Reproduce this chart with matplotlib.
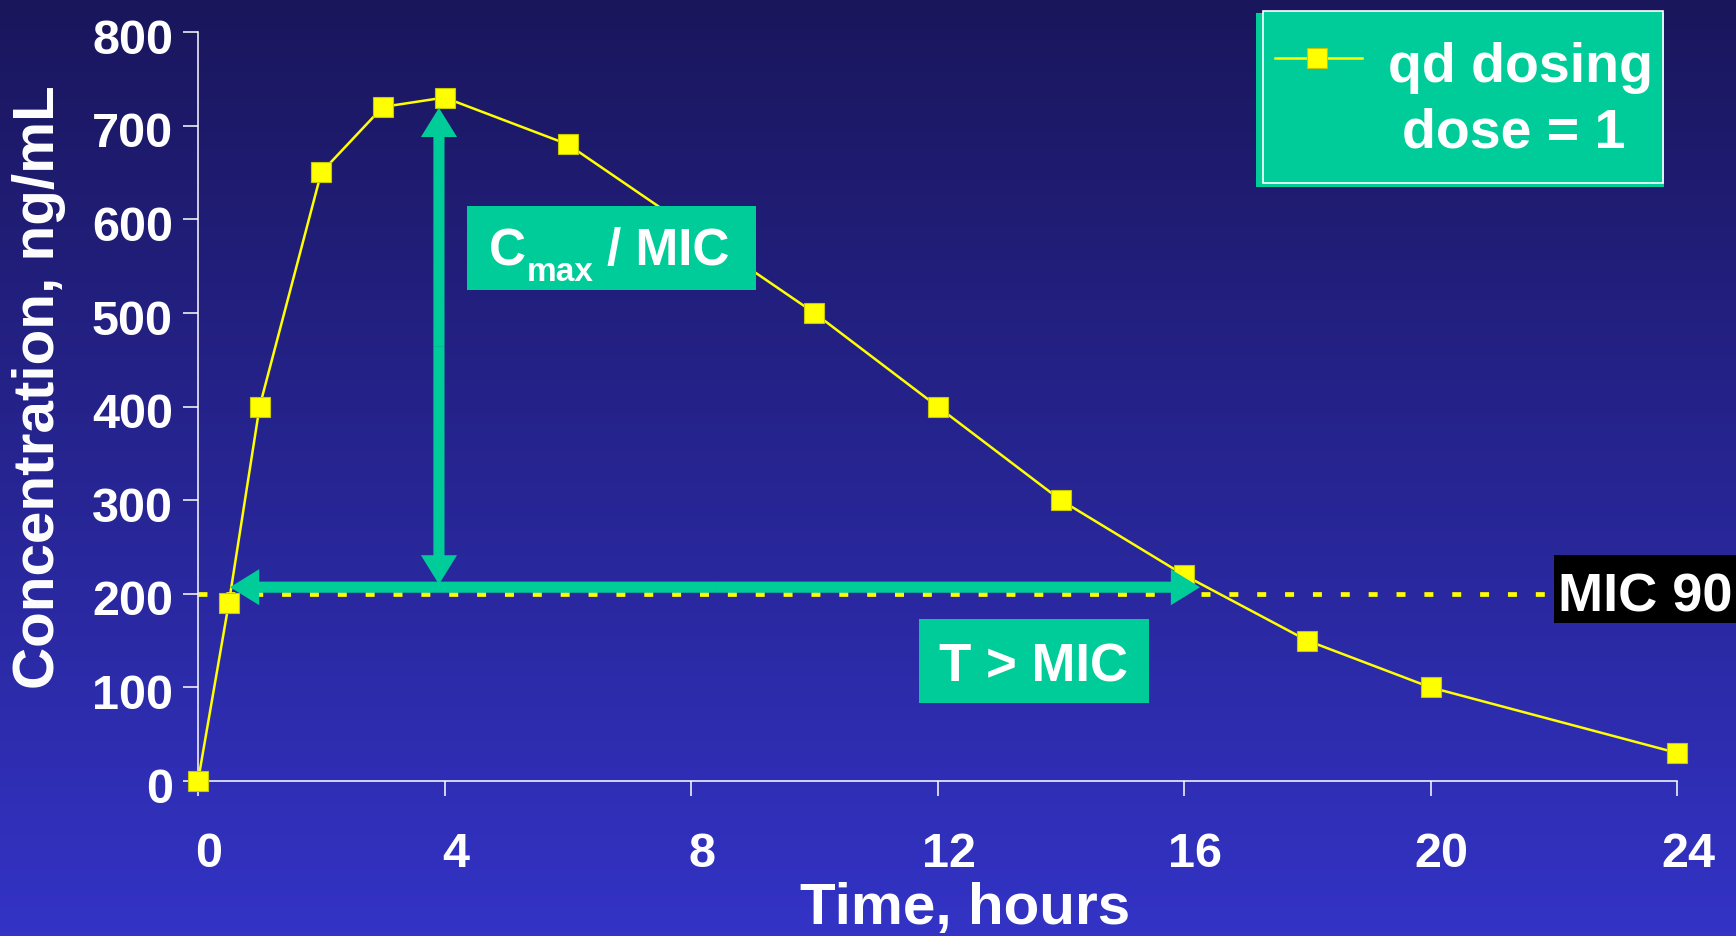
import matplotlib
matplotlib.use("Agg")
import matplotlib.pyplot as plt
import numpy as np
from matplotlib.patches import Rectangle, FancyArrowPatch, ArrowStyle
from matplotlib.lines import Line2D
from matplotlib.transforms import ScaledTranslation

# data
hours = [0, 0.5, 1, 2, 3, 4, 6, 10, 12, 14, 16, 18, 20, 24]
conc = [0, 190, 400, 650, 720, 730, 680, 500, 400, 300, 220, 150, 100, 30]
mic90 = 200
x_ticks = [0, 4, 8, 12, 16, 20, 24]
y_ticks = [0, 100, 200, 300, 400, 500, 600, 700, 800]

# annotation arrows (data coords)
t_mic_arrow = (0.52, 16.26, 207)     # x start, x end, y
cmax_arrow = (3.91, 210, 719)        # x, y bottom, y top

W, H = 1736, 936
GREEN = "#00CC99"
YELLOW = "#FFFF00"

plt.rcParams["font.family"] = ["Liberation Sans", "DejaVu Sans"]
plt.rcParams["font.weight"] = "bold"


def fx(px):
    return px / W


def fy(py):
    return 1 - py / H


fig = plt.figure(figsize=(W / 100, H / 100), dpi=100)

# background gradient, dark navy at top to brighter blue at bottom
bg = fig.add_axes([0, 0, 1, 1], zorder=0)
top = np.array([26, 22, 92]) / 255
bottom = np.array([51, 51, 198]) / 255
k = np.linspace(0, 1, 256)[:, None]
grad = top * (1 - k) + bottom * k
bg.imshow(grad[:, None, :], aspect="auto", extent=[0, 1, 0, 1])
bg.axis("off")

ax = fig.add_axes([fx(198), fy(781), fx(1677) - fx(198), fy(32) - fy(781)], zorder=1)
ax.patch.set_alpha(0)
ax.set_xlim(0, 24)
ax.set_ylim(0, 800)

for s in ["top", "right"]:
    ax.spines[s].set_visible(False)
for s in ["left", "bottom"]:
    ax.spines[s].set_color("white")
    ax.spines[s].set_linewidth(1.1)

ax.set_xticks(x_ticks)
ax.set_yticks(y_ticks)
ax.tick_params(axis="both", colors="white", direction="out", length=11, width=1.1,
               labelsize=35)
ax.tick_params(axis="x", pad=26)
ax.tick_params(axis="y", pad=7)
for lab in ax.get_xticklabels():
    lab.set_fontweight("bold")
    lab.set_transform(lab.get_transform() + ScaledTranslation(8 / 72, 0, fig.dpi_scale_trans))
for lab in ax.get_yticklabels():
    lab.set_fontweight("bold")
    lab.set_transform(lab.get_transform() + ScaledTranslation(0, -3 / 72, fig.dpi_scale_trans))

ax.set_xlabel("Time, hours", fontsize=42, color="white", fontweight="bold", va="baseline")
ax.xaxis.set_label_coords((965 - 198) / 1479, (781 - 924) / 749)
ax.set_ylabel("Concentration, ng/mL", fontsize=42, color="white", fontweight="bold",
              va="center")
ax.yaxis.set_label_coords((39 - 198) / 1479, (781 - 387) / 749)

# MIC 90 dashed line
ax.axhline(mic90, color=YELLOW, lw=3.4, linestyle=(0, (1.9, 4.0)), zorder=2)

# concentration curve
ax.plot(hours, conc, color=YELLOW, lw=1.8, marker="s", ms=15, mfc=YELLOW,
        mec="#C8C800", mew=0.8, clip_on=False, zorder=3)


def double_arrow(p0, p1):
    mid = ((p0[0] + p1[0]) / 2, (p0[1] + p1[1]) / 2)
    style = ArrowStyle.Simple(head_length=1.05, head_width=1.3, tail_width=0.4)
    for end in (p0, p1):
        a = FancyArrowPatch(mid, end, arrowstyle=style, mutation_scale=20,
                            shrinkA=0, shrinkB=0, fc=GREEN, ec="none", lw=0,
                            zorder=4)
        ax.add_patch(a)


double_arrow((t_mic_arrow[0], t_mic_arrow[2]), (t_mic_arrow[1], t_mic_arrow[2]))
double_arrow((cmax_arrow[0], cmax_arrow[1]), (cmax_arrow[0], cmax_arrow[2]))


def fig_box(x0, y0, x1, y1, color, z=5, **kw):
    r = Rectangle((fx(x0), fy(y1)), fx(x1) - fx(x0), fy(y0) - fy(y1),
                  transform=fig.transFigure, facecolor=color, zorder=z, **kw)
    fig.add_artist(r)
    return r


def fig_label(x, y, s, size, **kw):
    fig.text(fx(x), fy(y), s, fontsize=size, color="white", fontweight="bold",
             ha="left", va="baseline", zorder=6, **kw)


# C_max / MIC label
fig_box(467, 206, 756, 290, GREEN)
fig_label(489, 265, "C", 37)
fig_label(527, 281, "max", 24)
fig_label(607, 265, "/ MIC", 37)

# T > MIC label
fig_box(919, 619, 1149, 703, GREEN)
fig_label(939, 682, "T > MIC", 38)

# MIC 90 tag at right edge
fig_box(1554, 555, 1740, 623, "black")
fig_label(1558, 611, "MIC 90", 39)

# legend box
fig_box(1256, 13, 1664, 187, GREEN)
fig_box(1263, 11, 1663, 183, GREEN, edgecolor="white", linewidth=1.2)
fig.add_artist(Line2D([fx(1275), fx(1362)], [fy(58), fy(58)], transform=fig.transFigure,
                      color=YELLOW, lw=1.8, zorder=6))
fig.add_artist(Line2D([fx(1317)], [fy(58)], transform=fig.transFigure, marker="s",
                      ms=15, mfc=YELLOW, mec="#C8C800", mew=0.8, lw=0, zorder=7))
fig_label(1388, 82, "qd dosing", 40)
fig_label(1402, 148, "dose = 1", 40)

fig.savefig("out.png", dpi=100)
plt.close(fig)
